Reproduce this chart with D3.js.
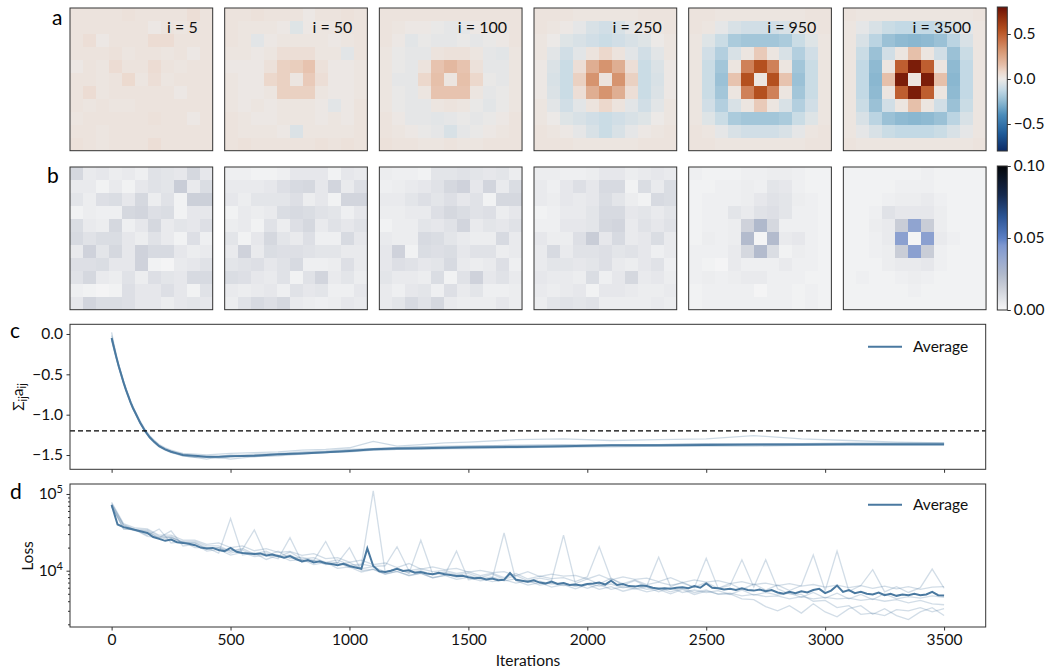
<!DOCTYPE html>
<html><head><meta charset="utf-8">
<script src="https://cdn.jsdelivr.net/npm/d3@7"></script>
<style>
body{margin:0;background:#fff;}
svg{font-family:Lato,"DejaVu Sans",sans-serif;}
</style></head><body>
<svg id="fig" width="1048" height="671"></svg>
<script>
// ---------- data ----------
const snapshotIters = [5, 50, 100, 250, 950, 3500];

// mean coupling kernel a_ij at each snapshot (hundredths)
const kernel5 = [
 [3,3,3,3,4,3,3,3,3,5,3],[3,3,3,3,3,3,1,3,2,3,3],[3,5,1,3,3,3,6,6,3,3,3],[3,3,3,4,2,3,3,2,3,1,3],
 [1,3,2,6,3,3,6,3,2,3,3],[3,3,2,3,7,2,5,2,3,3,3],[3,6,2,3,3,3,3,3,1,3,3],[3,2,3,2,2,3,3,3,3,3,3],
 [2,3,3,3,3,3,4,3,3,1,3],[3,3,2,3,3,3,3,3,3,3,3],[4,3,2,3,3,3,5,3,3,3,3]];
const kernel50 = [
 [3,3,4,3,3,3,1,3,3,4,3],[3,2,2,2,1,-4,1,2,2,3,3],[3,2,-3,1,2,2,2,2,1,2,3],[2,2,1,2,5,5,5,2,2,-3,3],
 [1,1,1,4,10,11,14,4,1,1,2],[2,1,1,8,10,2,12,5,1,1,2],[2,1,1,2,10,10,10,2,1,1,2],[2,1,2,1,2,2,2,1,-3,1,3],
 [3,2,1,1,2,2,2,1,2,1,3],[3,2,2,2,1,-5,2,2,2,2,3],[3,4,3,3,3,3,3,4,3,4,3]];
const kernel100 = [
 [3,3,3,3,3,3,3,3,3,3,3],[3,2,1,1,-1,-2,-2,1,2,2,3],[3,1,-3,-1,-2,-2,-1,-2,-1,1,3],[2,-1,-2,-2,3,4,4,2,-2,-3,2],
 [2,-1,-2,3,14,18,14,4,-2,-2,2],[2,-2,-2,8,15,2,15,8,-1,-2,2],[2,-1,-2,2,14,14,14,2,-2,-1,2],[2,-1,-2,-2,2,3,2,-1,-3,-1,2],
 [3,1,-2,-2,-3,-2,-1,-2,-1,1,3],[3,2,1,-1,-2,-6,-2,-1,1,2,3],[4,3,3,2,2,3,2,2,3,3,3]];
const kernel250 = [
 [3,3,3,2,2,2,2,2,3,3,3],[3,2,1,-2,-6,-8,-6,-2,1,2,3],[2,0,-4,-6,-8,-10,-8,-6,-4,0,2],[2,-3,-8,-3,3,8,3,-3,-8,-3,2],
 [1,-5,-10,5,22,32,22,5,-10,-5,1],[1,-6,-10,10,32,3,32,10,-10,-6,1],[1,-5,-10,5,22,32,22,5,-10,-5,1],[2,-3,-8,-3,3,8,3,-3,-8,-3,2],
 [2,0,-4,-6,-8,-10,-8,-6,-4,0,2],[3,2,1,-2,-6,-10,-6,-2,1,2,3],[3,3,3,2,2,2,2,2,3,3,3]];
const kernel950 = [
 [3,3,2,2,2,2,2,2,2,3,3],[3,2,-2,-6,-8,-8,-8,-6,-2,2,3],[2,-4,-10,-18,-20,-20,-20,-18,-10,-4,2],[2,-8,-16,-6,2,12,2,-6,-16,-8,2],
 [2,-10,-20,2,38,55,38,2,-20,-10,2],[2,-10,-22,14,55,2,55,14,-22,-10,2],[2,-10,-20,2,38,55,38,2,-20,-10,2],[2,-8,-16,-6,2,12,2,-6,-16,-8,2],
 [2,-4,-10,-18,-20,-20,-20,-18,-10,-4,2],[3,2,-2,-6,-8,-8,-8,-6,-2,2,3],[3,3,2,2,2,2,2,2,2,3,3]];
const kernel3500 = [
 [3,2,2,2,2,2,2,2,2,2,3],[2,-2,-6,-10,-12,-12,-12,-10,-6,-2,2],[2,-6,-14,-22,-25,-26,-25,-22,-14,-6,2],[2,-10,-22,-8,2,15,2,-8,-22,-10,2],
 [2,-12,-25,2,50,75,50,2,-25,-12,2],[2,-12,-26,15,75,2,75,15,-26,-12,2],[2,-12,-25,2,50,75,50,2,-25,-12,2],[2,-10,-22,-8,2,15,2,-8,-22,-10,2],
 [2,-6,-14,-22,-25,-26,-25,-22,-14,-6,2],[2,-2,-6,-10,-12,-12,-12,-10,-6,-2,2],[3,2,2,2,2,2,2,2,2,2,3]];

// spread of the kernel across runs at each snapshot (thousandths)
const spread5 = [
 [12,5,6,4,5,3,8,7,6,12,6],[5,5,2,5,2,6,8,7,16,5,10],[7,4,9,10,6,12,4,8,2,15,15],[2,4,3,3,12,13,9,10,2,6,6],
 [10,5,4,12,3,6,12,5,7,6,9],[11,8,10,10,6,4,8,5,2,9,3],[5,14,7,12,6,14,11,11,6,4,5],[9,9,10,6,6,14,2,1,5,6,8],
 [8,12,5,4,8,4,9,7,6,11,11],[3,2,1,2,9,6,6,9,6,2,8],[6,13,10,10,9,6,6,4,6,7,6]];
const spread50 = [
 [3,3,2,2,3,6,6,6,2,6,5],[5,5,5,6,9,11,12,6,13,5,9],[6,4,7,7,7,9,4,6,2,13,13],[2,5,4,5,10,11,10,8,7,3,6],
 [4,5,2,8,4,9,12,5,8,6,8],[7,2,6,12,7,5,9,3,3,11,6],[5,14,5,10,9,9,8,7,7,5,5],[7,8,9,6,8,11,3,3,4,9,5],
 [10,9,6,5,8,2,8,13,5,7,4],[5,4,5,6,3,8,6,7,3,3,6],[4,8,11,9,12,5,4,3,4,6,5]];
const spread100 = [
 [4,3,3,2,7,7,8,7,6,7,4],[3,4,5,6,8,12,14,6,13,5,10],[5,5,7,9,7,9,6,8,2,12,12],[4,4,5,5,9,12,10,8,9,4,6],
 [2,4,4,7,6,8,13,5,7,6,8],[5,4,4,11,10,7,5,4,4,11,5],[6,14,2,10,9,10,6,8,8,4,5],[6,9,8,6,7,11,5,4,5,9,3],
 [7,5,5,4,10,2,8,14,6,8,5],[5,3,6,7,3,9,5,7,3,3,4],[5,7,11,8,12,5,4,4,4,6,4]];
const spread250 = [
 [4,4,3,3,4,6,6,4,5,6,5],[5,3,6,9,6,11,11,2,10,5,10],[5,4,6,5,6,10,7,4,2,11,10],[2,3,5,5,7,11,11,6,7,5,7],
 [3,3,6,6,7,12,13,5,8,6,8],[6,4,4,9,16,6,11,5,6,10,5],[5,11,5,8,8,9,7,8,6,3,5],[5,7,7,6,7,9,5,4,6,8,3],
 [6,5,5,4,10,3,6,12,5,6,4],[5,4,5,6,2,6,6,5,4,4,5],[4,7,8,7,8,4,4,4,4,5,4]];
const spread950 = [
 [3,2,2,2,3,3,4,4,3,2,2],[2,2,3,3,4,3,7,6,3,2,2],[2,3,3,3,4,6,8,7,4,3,2],[2,3,3,7,5,8,9,7,3,3,2],
 [2,3,3,4,14,25,12,3,3,3,2],[2,4,3,4,24,1,24,5,6,3,2],[3,3,3,5,12,24,10,2,4,3,2],[3,2,1,5,3,3,3,5,3,3,2],
 [3,4,3,4,5,5,3,3,3,2,2],[2,3,3,3,3,1,3,3,2,3,2],[2,3,3,3,3,3,3,3,2,3,2]];
const spread3500 = [
 [2,2,2,2,2,2,3,2,2,2,2],[2,2,2,2,3,3,3,2,2,2,2],[2,2,2,3,4,4,5,3,2,2,2],[2,2,3,8,6,6,6,4,2,2,2],
 [2,2,4,5,16,38,16,4,2,2,2],[2,2,3,5,40,1,40,5,3,2,2],[2,2,3,4,16,40,16,3,2,2,2],[2,2,2,4,5,5,6,3,2,2,2],
 [2,3,2,2,3,4,3,2,2,2,2],[2,2,2,2,2,3,2,2,2,2,2],[2,2,2,2,2,2,2,2,2,2,2]];

const kernelTicks = [-0.5, 0, 0.5];
const spreadTicks = [0, 0.05, 0.1];
const iterTicks = [0, 500, 1000, 1500, 2000, 2500, 3000, 3500];
const sumTicks = [0, -0.5, -1, -1.5];
const lossMajorTicks = [1e4, 1e5];
const lossMinorTicks = [2e3,3e3,4e3,5e3,6e3,7e3,8e3,9e3,2e4,3e4,4e4,5e4,6e4,7e4,8e4,9e4];

// panel c: sum of kernel entries over training
const sumIters = [0,10,20,30,40,50,60,70,80,90,100,120,140,160,180,200,225,250,275,300,350,400,450,500,
  600,700,800,900,1000,1100,1200,1300,1400,1500,1700,1900,2100,2300,2500,2700,2900,3100,3300,3500];
const sumAverage = [-0.05,-0.17,-0.29,-0.40,-0.50,-0.60,-0.69,-0.77,-0.85,-0.92,-0.98,-1.10,-1.20,-1.28,-1.34,-1.39,
  -1.43,-1.46,-1.48,-1.50,-1.51,-1.52,-1.52,-1.515,-1.51,-1.49,-1.48,-1.465,-1.45,-1.43,-1.42,-1.415,-1.41,-1.405,
  -1.40,-1.39,-1.38,-1.38,-1.375,-1.37,-1.37,-1.365,-1.365,-1.365];
const sumRun1 = [-0.02,-0.15,-0.28,-0.39,-0.49,-0.59,-0.68,-0.76,-0.84,-0.91,-0.97,-1.09,-1.19,-1.27,-1.33,-1.38,
  -1.42,-1.45,-1.47,-1.49,-1.51,-1.53,-1.54,-1.52,-1.50,-1.49,-1.47,-1.46,-1.44,-1.42,-1.41,-1.40,-1.40,-1.39,
  -1.38,-1.38,-1.37,-1.37,-1.36,-1.36,-1.36,-1.35,-1.35,-1.35];
const sumRun2 = [-0.08,-0.20,-0.31,-0.42,-0.52,-0.61,-0.70,-0.78,-0.86,-0.93,-0.99,-1.11,-1.21,-1.29,-1.35,-1.40,
  -1.44,-1.47,-1.49,-1.51,-1.53,-1.52,-1.53,-1.55,-1.52,-1.51,-1.49,-1.47,-1.46,-1.44,-1.43,-1.42,-1.42,-1.41,
  -1.40,-1.40,-1.39,-1.39,-1.38,-1.38,-1.38,-1.38,-1.37,-1.37];
const sumRun3 = [0.02,-0.13,-0.26,-0.38,-0.48,-0.58,-0.67,-0.75,-0.83,-0.90,-0.96,-1.08,-1.18,-1.26,-1.32,-1.37,
  -1.41,-1.44,-1.46,-1.48,-1.49,-1.50,-1.49,-1.48,-1.47,-1.46,-1.44,-1.43,-1.41,-1.33,-1.39,-1.37,-1.35,-1.34,
  -1.31,-1.30,-1.32,-1.31,-1.30,-1.26,-1.30,-1.32,-1.34,-1.35];
const sumRun4 = [-0.05,-0.18,-0.30,-0.41,-0.51,-0.60,-0.69,-0.77,-0.85,-0.92,-0.98,-1.10,-1.20,-1.28,-1.34,-1.39,
  -1.43,-1.46,-1.49,-1.51,-1.53,-1.55,-1.52,-1.50,-1.52,-1.50,-1.48,-1.47,-1.45,-1.44,-1.43,-1.43,-1.42,-1.42,
  -1.41,-1.40,-1.40,-1.39,-1.39,-1.39,-1.38,-1.38,-1.38,-1.38];
const sumRun5 = [-0.06,-0.17,-0.29,-0.40,-0.50,-0.60,-0.69,-0.77,-0.85,-0.92,-0.98,-1.10,-1.20,-1.28,-1.34,-1.39,
  -1.43,-1.46,-1.48,-1.50,-1.52,-1.53,-1.52,-1.51,-1.49,-1.48,-1.46,-1.45,-1.43,-1.42,-1.41,-1.40,-1.39,-1.39,
  -1.38,-1.37,-1.38,-1.37,-1.36,-1.37,-1.36,-1.36,-1.36,-1.36];
const sumReference = -1.2;

// panel d: loss (thousands); average every 25 iterations, single runs every 50
const lossAvgStep = 25;
const lossAverage = [
 72,40,37,35.5,34,32.5,31,27.5,26,24.5,25.5,23.5,23,22.5,21.5,20,19.5,19.8,18.6,18.0,19.8,
 17.6,17.0,16.8,16.5,16.8,15.8,16.2,15.5,14.8,15.5,14.2,13.2,13.8,12.8,13.3,12.5,12.2,11.8,12.3,11.5,
 11.0,10.6,19.5,11.5,9.8,9.6,10.0,10.6,9.9,10.1,9.4,9.6,9.2,9.0,9.4,9.0,8.8,8.5,8.6,8.2,
 8.0,8.1,7.7,7.9,7.5,7.6,9.3,7.6,7.4,7.2,7.5,7.0,6.8,7.2,6.7,6.9,6.5,6.6,6.4,6.7,
 6.8,7.0,6.6,7.4,6.5,6.7,6.3,6.2,6.4,6.3,6.0,5.8,5.9,5.8,6.0,6.1,5.9,6.3,6.0,6.8,
 6.0,5.9,5.7,5.8,5.6,5.9,5.6,5.5,5.7,5.4,5.6,5.2,5.0,5.3,5.1,5.4,5.2,5.6,5.8,5.1,
 5.5,6.4,5.3,5.6,5.1,5.3,5.0,4.9,5.2,4.8,5.0,4.7,4.9,4.8,5.0,4.8,4.9,5.3,4.8,4.75];
const lossRunStep = 50;
const lossRunA = [75,39,34,33,26,27,23,23,19,20, 17,18.5,16,17,15,16,13.5,13.5,12.5,12.8, 11,11.8,110,9.6,10.8,9.4,10,8.8,9.3,8.2,
 8.6,7.8,8.3,7.4,7.8,7.0,7.3,6.7,7.0,6.2, 6.8,6.3,6.7,6.0,6.4,5.7,6.0,5.3,5.9,5.2, 5.6,4.9,5.0,4.3,4.2,3.4,3.0,3.5,2.8,3.7,
 2.9,2.5,3.2,3.5,2.7,3.2,2.6,2.3,2.9,3.3, 2.6];
const lossRunB = [70,35,34,29,35,23,24,20,20,17, 48,16,17,14,16,13.5,14,12,12.8,10.7, 11.2,9.6,10.4,9,9.8,8.7,9.3,8.1,8.7,7.7,
 8.2,7.4,7.8,31,7.4,6.5,7.0,6.1,6.6,5.8, 6.6,5.7,6.2,5.4,5.9,5.3,5.7,5.0,5.7,4.9, 5.4,5.0,5.1,4.7,4.9,4.6,4.7,4.3,4.6,4.3,
 4.5,4.3,4.4,4.1,4.3,4.0,4.2,3.8,4.1,3.7, 3.6];
const lossRunC = [68,38,33,32,27,28,23,23,20,20, 18,19,34,15.5,18,14.5,15,13.5,24,12, 12.8,10.6,11.3,9.6,10.6,9.2,25,9.0,9.6,8.8,
 9.2,8.1,9.0,7.7,8.7,7.4,8.0,7.5,29,6.8, 7.8,6.7,8.0,6.5,7.4,6.3,15,6.2,7.1,6.0, 14.5,5.9,6.8,5.7,6.7,5.6,6.5,5.5,6.4,16,
 5.5,18,5.4,6.4,10.3,5.3,6.2,5.2,6.0,10.5, 5.9];
const lossRunD = [74,40,34,34,28,27,24,24,21,21, 18,19.5,16.5,18,15.2,17.5,14.2,14.8,12.8,13.8, 11.8,12.2,11.4,11.6,20.5,10,10.6,9.7,10.1,9.2,
 9.7,8.6,9.3,8.1,9.2,7.8,8.5,7.9,8.1,7.2, 8.3,20.5,7.8,6.8,7.6,6.6,7.1,6.5,6.9,6.1, 7.0,5.9,6.4,13.9,6.1,13.9,5.8,5.0,4.9,4.0,
 4.1,3.3,3.5,2.7,2.8,2.6,3.1,3.0,3.3,2.9, 3.2];
const lossRunE = [78,41,36,35,29,29,25,25,22,23, 20,21,18.2,19.4,17.3,17.8,15.8,16.7,14.4,14.8, 12.9,13.7,12,12.6,11,12.4,10.5,11.2,10.3,10.7,
 9.6,10.1,9.4,9.7,8.6,9.7,8.4,9.0,8.5,8.7, 7.8,8.8,7.6,8.3,7.7,8.0,7.2,8.1,7.0,7.6, 7.1,7.4,6.8,7.2,6.6,6.9,6.4,6.8,6.3,6.6,
 6.1,6.5,6.0,6.4,5.9,6.3,5.8,6.2,5.7,6.1, 6.2];
const lossRunF = [71,35,34,28,27,33,21,22,18,19, 16,17.3,15.3,15.8,14.3,27,13,13.7,12,12.6, 20,10,10.5,9.1,9.8,8.6,9.2,8.1,8.7,18,
 7.6,8.0,7.2,7.6,6.9,7.4,6.5,6.9,6.4,6.7, 5.9,6.6,5.7,6.2,5.8,6.1,5.3,6.0,5.2,5.6, 5.2,5.5,4.9,5.6,4.8,5.2,4.8,5.1,4.5,5.2,
 4.4,5.1,4.3,4.9,4.2,5.0,4.3,4.6,4.4,4.7, 4.5];

// ---------- drawing ----------
const svg = d3.select("#fig");
const ink = "#111";
const axisInk = "#333";
const lineBlue = "#4a79a0";

// colour maps
const kernelColor = d3.scaleLinear()
  .domain([-0.8,-0.6,-0.4,-0.25,-0.12,0,0.08,0.15,0.3,0.45,0.55,0.7,0.8])
  .range(["#0b2a66","#1f5c9a","#4a8cba","#8fbad2","#c3d9e5","#ece9e7","#ecd8cc","#e6c0aa","#d89a76","#c76c40","#b4501f","#8c2a0c","#6a1006"])
  .interpolate(d3.interpolateRgb).clamp(true);
const spreadColor = d3.scaleLinear()
  .domain([0,0.008,0.016,0.025,0.035,0.045,0.05,0.065,0.08,0.1])
  .range(["#f7f7f7","#e0e2e7","#c9cdd7","#b0b9cc","#98a9d0","#7d97d0","#5a7ec4","#2b5494","#15294d","#040609"])
  .interpolate(d3.interpolateRgb).clamp(true);

const kernels = [kernel5, kernel50, kernel100, kernel250, kernel950, kernel3500];
const spreads = [spread5, spread50, spread100, spread250, spread950, spread3500];

const panelW = 142.7, panelStep = 154.67, panelX0 = 70;
const rowA = 8, rowB = 167;
const panelPos = d3.scaleBand().domain(d3.range(6)).range([panelX0, panelX0 + panelStep * 6]);
const cellScale = d3.scaleBand().domain(d3.range(11)).range([0, panelW]);

function drawGrid(grid, x0, y0, scale, color) {
  const g = svg.append("g").attr("transform", `translate(${x0},${y0})`);
  grid.forEach((row, r) => {
    g.selectAll(null).data(row).enter().append("rect")
      .attr("x", (d, c) => cellScale(c))
      .attr("y", cellScale(r))
      .attr("width", cellScale.bandwidth() + 0.4)
      .attr("height", cellScale.bandwidth() + 0.4)
      .attr("fill", d => color(d * scale))
      .attr("shape-rendering", "crispEdges");
  });
  g.append("rect").attr("width", panelW).attr("height", panelW)
    .attr("fill", "none").attr("stroke", axisInk).attr("stroke-width", 1);
  return g;
}

kernels.forEach((grid, k) => {
  const x0 = panelPos(k);
  const g = drawGrid(grid, x0, rowA, 0.01, kernelColor);
  g.append("text").attr("x", panelW - 15).attr("y", 25)
    .attr("text-anchor", "end").attr("font-size", 16).attr("fill", ink)
    .text(`i = ${snapshotIters[k]}`);
});
spreads.forEach((grid, k) => drawGrid(grid, panelPos(k), rowB, 0.001, spreadColor));

// colour bars
function colorBar(id, x, y0, y1, domain, color, ticks, fmt) {
  const defs = svg.append("defs");
  const grad = defs.append("linearGradient").attr("id", id)
    .attr("x1", 0).attr("x2", 0).attr("y1", 1).attr("y2", 0);
  const n = 40;
  d3.range(n + 1).forEach(i => {
    const v = domain[0] + (domain[1] - domain[0]) * i / n;
    grad.append("stop").attr("offset", i / n).attr("stop-color", color(v));
  });
  svg.append("rect").attr("x", x).attr("y", y0).attr("width", 10).attr("height", y1 - y0)
    .attr("fill", `url(#${id})`).attr("stroke", axisInk).attr("stroke-width", 1);
  const s = d3.scaleLinear().domain(domain).range([y1, y0]);
  const ax = svg.append("g").attr("transform", `translate(${x + 10},0)`)
    .call(d3.axisRight(s).tickValues(ticks).tickSize(3.5).tickPadding(3).tickFormat(fmt));
  ax.select(".domain").remove();
  ax.selectAll("line").attr("stroke", axisInk);
  ax.selectAll("text").attr("font-size", 15.5).attr("fill", ink).attr("font-family", "Lato");
}
colorBar("kernelGrad", 997.3, 7, 151, [-0.8, 0.8], kernelColor, kernelTicks, d3.format(".1f"));
colorBar("spreadGrad", 997.3, 166, 310, [0, 0.1], spreadColor, spreadTicks, d3.format(".2f"));

// shared x scale for panels c and d
const x = d3.scaleLinear().domain([-175, 3675]).range([70, 985.7]);

// ---- panel c ----
const cTop = 324.3, cBot = 469.3;
const yC = d3.scaleLinear().domain([-1.677, 0.12]).range([cBot, cTop]);
const lineC = d3.line().x((d, i) => x(sumIters[i])).y(d => yC(d));
const cG = svg.append("g");
[sumRun1, sumRun2, sumRun3, sumRun4, sumRun5].forEach(run => {
  cG.append("path").datum(run).attr("d", lineC).attr("fill", "none")
    .attr("stroke", lineBlue).attr("stroke-opacity", 0.28).attr("stroke-width", 1.3);
});
cG.append("path").datum(sumAverage).attr("d", lineC).attr("fill", "none")
  .attr("stroke", lineBlue).attr("stroke-width", 2);
cG.append("line").attr("x1", x.range()[0]).attr("x2", x.range()[1])
  .attr("y1", yC(sumReference)).attr("y2", yC(sumReference))
  .attr("stroke", "#000").attr("stroke-width", 1.3).attr("stroke-dasharray", "5,3");
svg.append("rect").attr("x", 70).attr("y", cTop).attr("width", 915.7).attr("height", cBot - cTop)
  .attr("fill", "none").attr("stroke", axisInk).attr("stroke-width", 1);
const cy = svg.append("g").attr("transform", "translate(70,0)")
  .call(d3.axisLeft(yC).tickValues(sumTicks).tickSize(3.5).tickPadding(3.5).tickFormat(d3.format(".1f")));
const cx = svg.append("g").attr("transform", `translate(0,${cBot})`)
  .call(d3.axisBottom(x).tickValues(iterTicks).tickSize(3.5).tickFormat(""));

// ---- panel d ----
const dTop = 484, dBot = 627;
const yD = d3.scaleLog().domain([1845, 134900]).range([dBot, dTop]);
const lineAvg = d3.line().x((d, i) => x(i * lossAvgStep)).y(d => yD(d * 1000));
const lineRun = d3.line().x((d, i) => x(i * lossRunStep)).y(d => yD(d * 1000));
const dG = svg.append("g");
[lossRunA, lossRunB, lossRunC, lossRunD, lossRunE, lossRunF].forEach(run => {
  dG.append("path").datum(run).attr("d", lineRun).attr("fill", "none")
    .attr("stroke", lineBlue).attr("stroke-opacity", 0.25).attr("stroke-width", 1.3);
});
dG.append("path").datum(lossAverage).attr("d", lineAvg).attr("fill", "none")
  .attr("stroke", lineBlue).attr("stroke-width", 2);
svg.append("rect").attr("x", 70).attr("y", dTop).attr("width", 915.7).attr("height", dBot - dTop)
  .attr("fill", "none").attr("stroke", axisInk).attr("stroke-width", 1);
const dy = svg.append("g").attr("transform", "translate(70,0)")
  .call(d3.axisLeft(yD).tickValues(lossMajorTicks).tickSize(3.5).tickPadding(3.5).tickFormat(""));
dy.selectAll(".tick").append("text")
  .attr("x", -7).attr("dy", "0.32em").attr("text-anchor", "end")
  .each(function(d) {
    const t = d3.select(this);
    t.append("tspan").text("10");
    t.append("tspan").attr("dy", "-0.55em").attr("font-size", 11).text(Math.round(Math.log10(d)));
  });
const dyMinor = svg.append("g").attr("transform", "translate(70,0)")
  .call(d3.axisLeft(yD).tickValues(lossMinorTicks).tickSize(2).tickFormat(""));
const dx = svg.append("g").attr("transform", `translate(0,${dBot})`)
  .call(d3.axisBottom(x).tickValues(iterTicks).tickSize(3.5).tickPadding(3.5).tickFormat(d3.format("d")));

[cy, cx, dy, dyMinor, dx].forEach(ax => {
  ax.select(".domain").remove();
  ax.selectAll("line").attr("stroke", axisInk);
  ax.selectAll("text").attr("font-size", 15.5).attr("fill", ink).attr("font-family", "Lato");
});

// legends
function legend(yMid) {
  svg.append("line").attr("x1", 868).attr("x2", 902).attr("y1", yMid).attr("y2", yMid)
    .attr("stroke", lineBlue).attr("stroke-width", 2);
  svg.append("text").attr("x", 913).attr("y", yMid).attr("dy", "0.35em")
    .attr("font-size", 15.5).attr("fill", ink).text("Average");
}
legend(346.7);
legend(504.7);

// axis titles
const cLabel = svg.append("text").attr("transform", "translate(24,397) rotate(-90)")
  .attr("text-anchor", "middle").attr("font-size", 15.5).attr("fill", ink);
cLabel.append("tspan").text("Σ");
cLabel.append("tspan").attr("font-size", 11).attr("dy", "0.3em").text("ij");
cLabel.append("tspan").attr("dy", "-0.3em").text("a");
cLabel.append("tspan").attr("font-size", 11).attr("dy", "0.3em").text("ij");

svg.append("text").attr("transform", "translate(33,556) rotate(-90)")
  .attr("text-anchor", "middle").attr("font-size", 15.5).attr("fill", ink).text("Loss");
svg.append("text").attr("x", 528).attr("y", 666).attr("text-anchor", "middle")
  .attr("font-size", 15.5).attr("fill", ink).text("Iterations");

// panel letters
[["a", 52, 25], ["b", 47, 183], ["c", 10, 338], ["d", 10, 499]].forEach(([t, lx, ly]) => {
  svg.append("text").attr("x", lx).attr("y", ly).attr("font-size", 21).attr("fill", "#000").text(t);
});
</script>
</body></html>
